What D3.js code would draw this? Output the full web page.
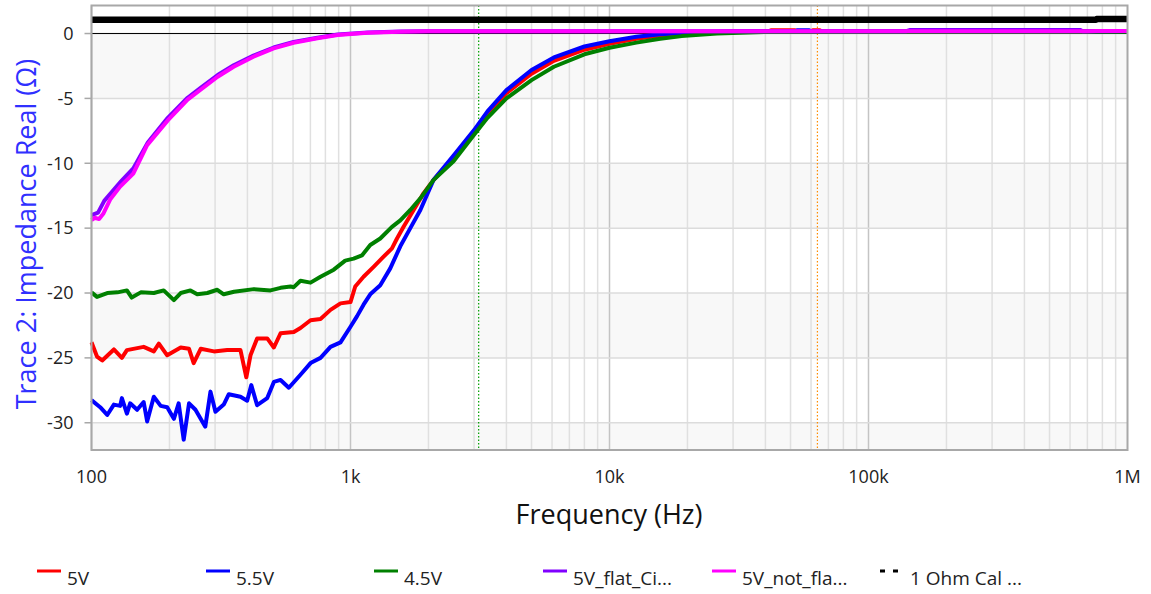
<!DOCTYPE html>
<html>
<head>
<meta charset="utf-8">
<script src="https://cdn.jsdelivr.net/npm/d3@7"></script>
<style>
  body { margin: 0; background: #fff; }
  svg { display: block; font-family: "Open Sans", "Noto Sans", sans-serif; }
</style>
</head>
<body>
<svg id="chart" width="1151" height="594"></svg>
<script>
// [frequency Hz, real impedance Ω]
const trace5V = [
  [100, -23.8], [105, -24.9], [110, -25.2], [122, -24.35], [131, -25.0], [137, -24.4],
  [159, -24.15], [174, -24.5], [182, -23.9], [196, -24.8], [221, -24.2], [238, -24.3],
  [248, -25.4], [264, -24.3], [297, -24.5], [334, -24.4], [376, -24.4], [396, -26.5],
  [411, -24.8], [436, -23.5], [477, -23.5], [506, -24.2], [537, -23.1], [604, -23.0],
  [641, -22.7], [701, -22.1], [766, -22.0], [837, -21.3], [915, -20.8], [1000, -20.7],
  [1043, -19.5], [1123, -18.75], [1228, -17.98], [1342, -17.2], [1446, -16.56], [1512, -15.8],
  [1603, -14.9], [1753, -13.6], [1916, -12.3], [2090, -11.3], [2500, -9.6], [3000, -7.6],
  [3380, -6.2], [4000, -4.6], [5000, -3.1], [6100, -2.1], [8000, -1.25], [10000, -0.8],
  [12700, -0.4], [15700, -0.15], [20000, 0.05], [30000, 0.15], [41000, 0.17],
  [42000, 0.25], [52000, 0.25], [53000, 0.16], [60000, 0.16], [61000, 0.25], [65000, 0.25],
  [66000, 0.16], [1000000, 0.16]
];
const trace5V5 = [
  [100, -28.26], [108, -28.8], [115, -29.4], [122, -28.6], [129, -28.7], [131, -28.1],
  [137, -29.3], [141, -28.5], [150, -29.0], [159, -28.4], [164, -29.9], [174, -28.0],
  [185, -28.7], [196, -28.8], [208, -29.7], [217, -28.5], [227, -31.3], [238, -28.5],
  [252, -29.0], [275, -30.3], [288, -27.6], [301, -29.15], [324, -28.6], [339, -27.8],
  [376, -28.0], [399, -28.3], [414, -27.1], [436, -28.65], [477, -28.1], [506, -26.85],
  [537, -26.7], [578, -27.3], [641, -26.3], [701, -25.4], [766, -25.0], [837, -24.15],
  [915, -23.8], [1000, -22.6], [1059, -21.8], [1123, -20.9], [1192, -20.1], [1303, -19.4],
  [1424, -18.1], [1557, -16.4], [1702, -15.0], [1861, -13.6], [2090, -11.3], [2500, -9.4],
  [3000, -7.44], [3380, -6.0], [4000, -4.36], [5000, -2.81], [6100, -1.84], [8000, -1.0],
  [10000, -0.6], [12700, -0.25], [15700, -0.05], [20000, 0.08], [30000, 0.15], [52000, 0.16],
  [53000, 0.25], [59000, 0.25], [60000, 0.16], [1000000, 0.16]
];
const trace4V5 = [
  [100, -19.95], [105, -20.3], [115, -20.0], [126, -19.95], [137, -19.8], [143, -20.35],
  [155, -19.95], [174, -20.0], [190, -19.8], [208, -20.55], [221, -20.0], [241, -19.8],
  [256, -20.1], [280, -20.0], [306, -19.75], [324, -20.1], [355, -19.9], [424, -19.7],
  [491, -19.8], [537, -19.6], [587, -19.5], [604, -19.55], [641, -19.06], [701, -19.2],
  [766, -18.75], [862, -18.2], [954, -17.5], [1028, -17.35], [1107, -17.1], [1192, -16.3],
  [1303, -15.8], [1446, -14.9], [1557, -14.4], [1702, -13.6], [1861, -12.7], [2090, -11.3],
  [2500, -9.85], [3000, -7.8], [3380, -6.5], [4000, -5.0], [5000, -3.59], [6100, -2.56],
  [8000, -1.6], [10000, -1.1], [12700, -0.7], [15700, -0.4], [19000, -0.2], [26000, 0.0],
  [40000, 0.12], [1000000, 0.14]
];
const trace5VFlat = [
  [100, -14.0], [106, -13.8], [112, -12.9], [120, -12.2], [130, -11.4], [145, -10.4],
  [165, -8.4], [197, -6.5], [235, -4.95], [263, -4.2], [307, -3.2], [354, -2.45],
  [422, -1.7], [505, -1.08], [603, -0.65], [745, -0.32], [892, -0.08], [1164, 0.08],
  [1556, 0.15], [2000, 0.18], [140000, 0.18], [144000, 0.27], [660000, 0.27],
  [670000, 0.18], [1000000, 0.2]
];
const trace5VNotFlat = [
  [100, -14.38], [103, -14.2], [107, -14.3], [111, -13.9], [118, -12.8], [129, -11.8],
  [145, -10.8], [164, -8.6], [197, -6.7], [235, -5.1], [263, -4.35], [307, -3.33],
  [354, -2.56], [422, -1.79], [505, -1.14], [603, -0.71], [745, -0.37], [892, -0.12],
  [1164, 0.06], [1556, 0.14], [2000, 0.17], [700000, 0.17], [760000, 0.2], [1000000, 0.2]
];
const traceCal = [
  [100, 1.06], [1000, 1.06], [10000, 1.06], [100000, 1.06], [755000, 1.06],
  [760000, 1.11], [1000000, 1.11]
];

const seriesNames = ['5V', '5.5V', '4.5V', '5V_flat_Ci...', '5V_not_fla...', '1 Ohm Cal ...'];
const seriesColors = ['#ff0000', '#0000ff', '#008000', '#8000ff', '#ff00ff', '#000000'];
const seriesData = [trace5V, trace5V5, trace4V5, trace5VFlat, trace5VNotFlat, traceCal];

const xTickValues = [100, 1000, 10000, 100000, 1000000];
const xTickLabels = ['100', '1k', '10k', '100k', '1M'];
const yTickValues = [0, -5, -10, -15, -20, -25, -30];
const cursorFreqs = [3125, 63500];
const cursorColors = ['#00a000', '#ff8c00'];

const svg = d3.select('#chart');
const margin = { top: 5.5, right: 23.5, bottom: 144, left: 91.5 };
const width = 1151 - margin.left - margin.right;
const height = 594 - margin.top - margin.bottom;

const x = d3.scaleLog().domain([100, 1e6]).range([0, width]);
const y = d3.scaleLinear().domain([-32.1, 2.16]).range([height, 0]);

const g = svg.append('g').attr('transform', `translate(${margin.left},${margin.top})`);

// alternating background bands below zero
const bands = [[0, -5], [-10, -15], [-20, -25], [-30, -32.1]];
g.selectAll('rect.band')
  .data(bands)
  .join('rect')
  .attr('class', 'band')
  .attr('x', 0)
  .attr('width', width)
  .attr('y', d => y(d[0]))
  .attr('height', d => y(d[1]) - y(d[0]))
  .attr('fill', '#f8f8f8');

// grid
const gridFreqs = [];
for (let dec = 100; dec < 1e6; dec *= 10) {
  for (let k = 1; k < 10; k++) gridFreqs.push(dec * k);
}
g.selectAll('line.vgrid')
  .data(gridFreqs)
  .join('line')
  .attr('x1', d => x(d)).attr('x2', d => x(d))
  .attr('y1', 0).attr('y2', height)
  .attr('stroke', d => xTickValues.includes(d) ? '#c4c4c4' : '#e0e0e0')
  .attr('stroke-width', 1.5);

g.selectAll('line.hgrid')
  .data(yTickValues)
  .join('line')
  .attr('x1', 0).attr('x2', width)
  .attr('y1', d => y(d)).attr('y2', d => y(d))
  .attr('stroke', '#dcdcdc')
  .attr('stroke-width', 1.5);

// zero reference line
g.append('line')
  .attr('x1', 0).attr('x2', width)
  .attr('y1', y(0)).attr('y2', y(0))
  .attr('stroke', '#000')
  .attr('stroke-width', 1);

// cursors
g.selectAll('line.cursor')
  .data(cursorFreqs)
  .join('line')
  .attr('x1', d => x(d)).attr('x2', d => x(d))
  .attr('y1', 0).attr('y2', height)
  .attr('stroke', (d, i) => cursorColors[i])
  .attr('stroke-width', 1.2)
  .attr('stroke-dasharray', '1.5,2');

// traces
const line = d3.line()
  .x(d => x(d[0]))
  .y(d => y(d[1]));

g.append('g')
  .selectAll('path')
  .data(seriesData)
  .join('path')
  .attr('fill', 'none')
  .attr('stroke', (d, i) => seriesColors[i])
  .attr('stroke-width', (d, i) => i === 5 ? 6.5 : 4)
  .attr('stroke-linejoin', 'round')
  .attr('d', line);

// frame
g.append('rect')
  .attr('x', 0).attr('y', 0)
  .attr('width', width).attr('height', height)
  .attr('fill', 'none')
  .attr('stroke', '#a8a8a8')
  .attr('stroke-width', 2);

// y axis ticks + labels
g.selectAll('line.ytick')
  .data(yTickValues)
  .join('line')
  .attr('x1', -7).attr('x2', 0)
  .attr('y1', d => y(d)).attr('y2', d => y(d))
  .attr('stroke', '#a8a8a8')
  .attr('stroke-width', 1.5);

g.selectAll('text.ylab')
  .data(yTickValues)
  .join('text')
  .attr('x', -18)
  .attr('y', d => y(d))
  .attr('dy', '0.35em')
  .attr('text-anchor', 'end')
  .attr('font-size', 18)
  .attr('fill', '#222')
  .text(d => d);

// x axis labels
g.selectAll('text.xlab')
  .data(xTickValues)
  .join('text')
  .attr('x', d => x(d))
  .attr('y', height + 27)
  .attr('dy', '0.35em')
  .attr('text-anchor', 'middle')
  .attr('font-size', 18)
  .attr('fill', '#222')
  .text((d, i) => xTickLabels[i]);

// axis titles
svg.append('text')
  .attr('x', 609)
  .attr('y', 524)
  .attr('text-anchor', 'middle')
  .attr('font-size', 27)
  .attr('fill', '#111')
  .text('Frequency (Hz)');

svg.append('text')
  .attr('transform', `translate(36,234) rotate(-90)`)
  .attr('text-anchor', 'middle')
  .attr('font-size', 27)
  .attr('fill', '#3030ff')
  .text('Trace 2: Impedance Real (Ω)');

// legend
const legendX = [37, 206, 374, 543, 712, 880];
const legend = svg.append('g')
  .selectAll('g')
  .data(seriesNames)
  .join('g')
  .attr('transform', (d, i) => `translate(${legendX[i]},571)`);

legend.append('line')
  .attr('x1', 0).attr('x2', (d, i) => i === 5 ? 18 : 24)
  .attr('y1', 0).attr('y2', 0)
  .attr('stroke', (d, i) => seriesColors[i])
  .attr('stroke-width', 3)
  .attr('stroke-dasharray', (d, i) => i === 5 ? '5,8' : null);

legend.append('text')
  .attr('x', 30)
  .attr('y', 14)
  .attr('font-size', 19)
  .attr('fill', '#222')
  .text(d => d);
</script>
</body>
</html>
